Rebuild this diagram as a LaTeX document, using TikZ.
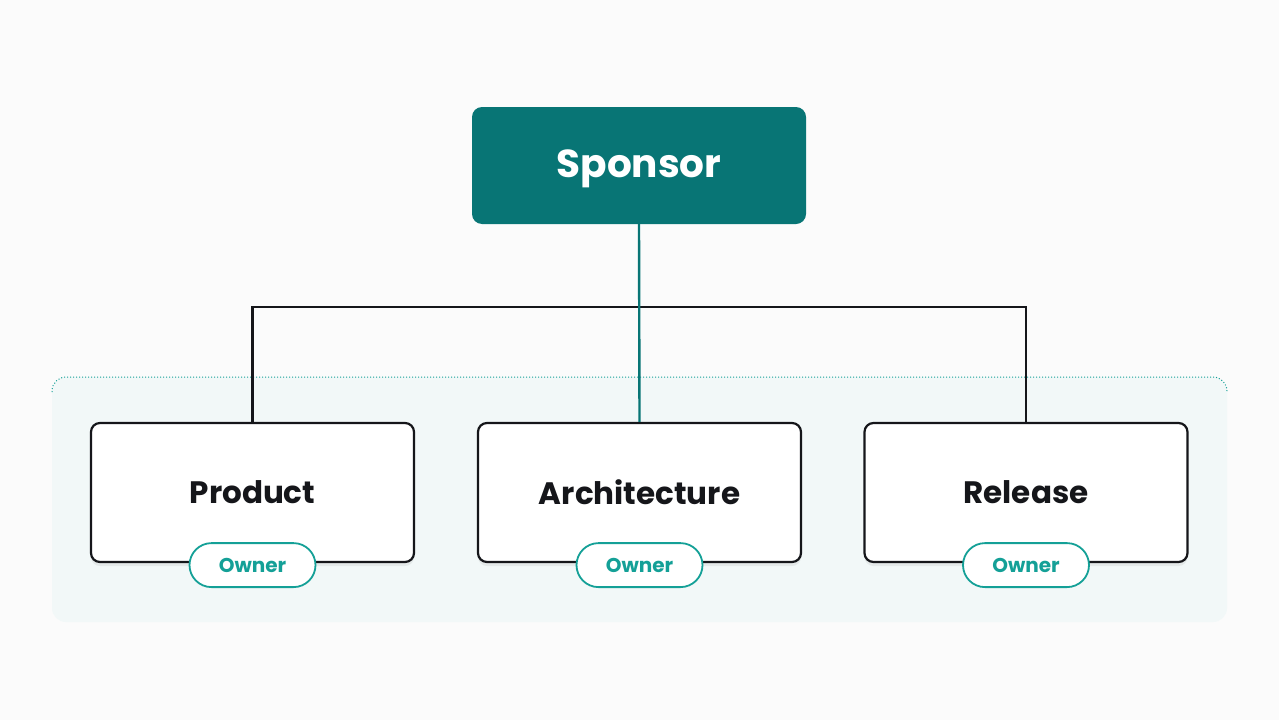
\documentclass[tikz,border=0pt]{standalone}
\usepackage{fontspec}
\setmainfont{Poppins}
\usetikzlibrary{positioning,shadows}

\definecolor{teal}{HTML}{087575}
\definecolor{tealtext}{HTML}{14A097}
\definecolor{panel}{HTML}{F2F8F8}
\definecolor{paper}{HTML}{FBFBFB}
\definecolor{ink}{HTML}{15161A}

\tikzset{
  rolebox/.style={draw=ink,line width=2.2pt,fill=white,rounded corners=9pt,
    minimum width=323pt,minimum height=139pt,
    font=\fontsize{31}{35}\selectfont\bfseries,text=ink,
    drop shadow={shadow xshift=0pt,shadow yshift=-4pt,opacity=0.12}},
  ownerpill/.style={draw=tealtext,line width=1.8pt,fill=white,rounded corners=22pt,
    minimum width=126pt,minimum height=44pt,
    font=\fontsize{20}{24}\selectfont\bfseries,text=tealtext},
}

\begin{document}
\begin{tikzpicture}[x=1pt,y=-1pt,>=latex]

% Hintergrund
\fill[paper] (0,0) rectangle (1279,720);
\useasboundingbox (0,0) rectangle (1279,720);

% Bereich der Rollen
\fill[panel,rounded corners=14pt] (52,377) rectangle (1227,622);
\draw[tealtext,dotted,line width=1pt,rounded corners=14pt] (52,392)--(52,377)--(1227,377)--(1227,392);

% Sponsor
\node[fill=teal,rounded corners=10pt,minimum width=334pt,minimum height=117pt] (sponsor) at (639,165.5) {};
\node[text=white,font=\fontsize{39}{43}\selectfont\bfseries] (sponsortext) at (639,168.5) {Sponsor};

% Rollen
\node[rolebox] (product) at (252.5,492.5) {Product};
\node[rolebox] (architecture) at (639.5,492.5) {Architecture};
\node[rolebox] (release) at (1026,492.5) {Release};

% Verbindungen
\coordinate (bus) at (639,307);
\draw[ink,line width=2.4pt] (product.north) |- (bus) -| (release.north);
\draw[teal,line width=2.4pt] (sponsor.south) -- (architecture.north);

% Owner
\node[ownerpill] (ownerA) at ([yshift=-2pt]product.south) {Owner};
\node[ownerpill] (ownerB) at ([yshift=-2pt]architecture.south) {Owner};
\node[ownerpill] (ownerC) at ([yshift=-2pt]release.south) {Owner};

\end{tikzpicture}
\end{document}
